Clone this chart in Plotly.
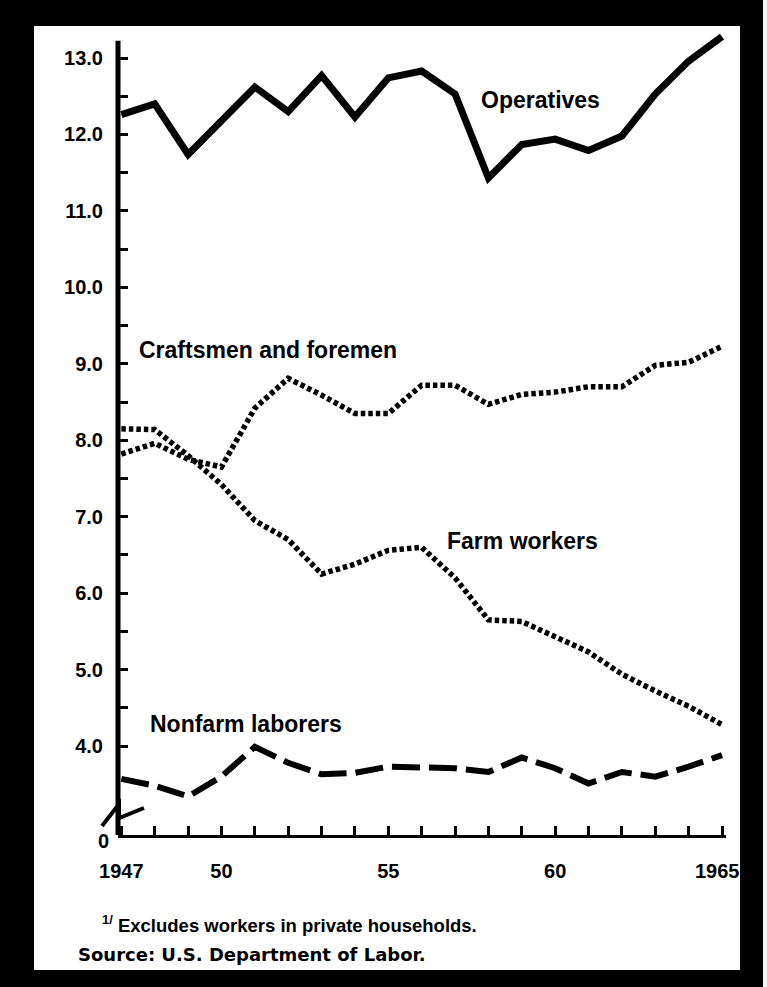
import plotly.graph_objects as go

# -----------------------------------------------------------------------------
# Data (millions of workers), 1947-1965
# -----------------------------------------------------------------------------
years = list(range(1947, 1966))

operatives = [12.26, 12.40, 11.74, 12.18, 12.62, 12.30, 12.77, 12.23, 12.74, 12.83,
              12.53, 11.43, 11.87, 11.94, 11.79, 11.98, 12.53, 12.96, 13.28]
craftsmen = [7.82, 7.96, 7.75, 7.65, 8.42, 8.81, 8.59, 8.35, 8.35, 8.72,
             8.72, 8.47, 8.60, 8.63, 8.70, 8.70, 8.98, 9.02, 9.23]
farm_workers = [8.15, 8.14, 7.80, 7.42, 6.95, 6.70, 6.25, 6.38, 6.56, 6.60,
                6.20, 5.65, 5.63, 5.43, 5.23, 4.94, 4.72, 4.52, 4.28]
nonfarm_laborers = [3.57, 3.48, 3.34, 3.60, 3.99, 3.78, 3.63, 3.65, 3.73, 3.72,
                    3.71, 3.66, 3.85, 3.71, 3.51, 3.66, 3.60, 3.73, 3.88]

y_major = [4, 5, 6, 7, 8, 9, 10, 11, 12, 13]
y_major_text = ["4.0", "5.0", "6.0", "7.0", "8.0", "9.0", "10.0", "11.0", "12.0", "13.0"]
y_minor = [4.5, 5.5, 6.5, 7.5, 8.5, 9.5, 10.5, 11.5, 12.5]
x_text = {1947: "1947", 1950: "50", 1955: "55", 1960: "60"}
last_year_text = "1965"

# broken axis: the zero line sits just below 4.0
axis_floor = 2.836
axis_top = 13.226
y_range = [axis_floor, 13.367]
x_range = [1946.9, 1965.12]

# -----------------------------------------------------------------------------
# pixel helpers (plot area in page pixels)
# -----------------------------------------------------------------------------
W, H = 767, 987
L, R, T, B = 118, 726, 30, 835


def px(x):
    return (x - L) / (R - L)


def py(y):
    return (B - y) / (B - T)


FONT = "Liberation Sans, Arial, sans-serif"
DOT = "4.5px,3px"

fig = go.Figure()

fig.add_trace(go.Scatter(x=years, y=operatives, mode="lines", name="Operatives",
                         line=dict(color="black", width=7)))
fig.add_trace(go.Scatter(x=years, y=craftsmen, mode="lines", name="Craftsmen and foremen",
                         line=dict(color="black", width=5.5, dash=DOT)))
fig.add_trace(go.Scatter(x=years, y=farm_workers, mode="lines", name="Farm workers",
                         line=dict(color="black", width=5.5, dash=DOT)))
fig.add_trace(go.Scatter(x=years, y=nonfarm_laborers, mode="lines", name="Nonfarm laborers",
                         line=dict(color="black", width=6, dash="28px,9px")))

# series labels
labels = [
    ("Operatives", 540, 100),
    ("Craftsmen and foremen", 268, 350),
    ("Farm workers", 522, 541),
    ("Nonfarm laborers", 246, 724),
]
annotations = []
for text, x, y in labels:
    annotations.append(dict(text=text, x=px(x), y=py(y), xref="paper", yref="paper",
                            showarrow=False, xanchor="center", yanchor="middle",
                            font=dict(family=FONT, size=23, color="black", weight="bold")))

tick_font = dict(family=FONT, size=20, color="black", weight="bold")
annotations += [
    dict(text="0", x=px(103), y=py(841), xref="paper", yref="paper", showarrow=False,
         xanchor="center", yanchor="middle", font=tick_font),
    # last year label sits a little left of its tick, inside the frame
    dict(text=last_year_text, x=px(717), y=py(871), xref="paper", yref="paper",
         showarrow=False, xanchor="center", yanchor="middle", font=tick_font),
    dict(text="<sup>1/</sup> Excludes workers in private households.", x=px(100), y=py(924),
         xref="paper", yref="paper", showarrow=False, xanchor="left", yanchor="middle",
         font=dict(family=FONT, size=18.5, color="black", weight="bold")),
    dict(text="Source: U.S. Department of Labor.", x=px(76), y=py(954),
         xref="paper", yref="paper", showarrow=False, xanchor="left", yanchor="middle",
         font=dict(family="DejaVu Sans, sans-serif", size=18, color="black", weight="bold")),
]

shapes = [
    # white page inside the black scan border
    dict(type="rect", xref="paper", yref="paper", x0=px(34), x1=px(740), y0=py(26), y1=py(970),
         fillcolor="white", line=dict(width=0), layer="below"),
    dict(type="rect", xref="paper", yref="paper", x0=px(763), x1=px(767), y0=py(0), y1=py(987),
         fillcolor="#f2f2f2", line=dict(width=0), layer="below"),
    # vertical axis line
    dict(type="line", xref="paper", yref="y", x0=0, x1=0, y0=axis_floor, y1=axis_top,
         line=dict(color="black", width=5)),
    # axis break zigzag
    dict(type="path", xref="paper", yref="paper",
         path=f"M {px(102)} {py(826)} L {px(119)} {py(804)} L {px(119)} {py(818)} L {px(144)} {py(808)}",
         line=dict(color="black", width=4)),
]

fig.update_layout(
    width=W, height=H,
    margin=dict(l=L, r=W - R, t=T, b=H - B),
    paper_bgcolor="black",
    plot_bgcolor="white",
    showlegend=False,
    annotations=annotations,
    shapes=shapes,
)

fig.update_xaxes(
    range=x_range, showgrid=False, zeroline=False,
    showline=True, linecolor="black", linewidth=3,
    tickmode="array", tickvals=years, ticktext=[x_text.get(yr, "") for yr in years],
    ticks="inside", ticklen=9, tickwidth=3, tickcolor="black",
    ticklabelstandoff=16,
    tickfont=tick_font,
)
fig.update_yaxes(
    range=y_range, showgrid=False, zeroline=False, showline=False,
    tickmode="array", tickvals=y_major, ticktext=y_major_text,
    ticks="inside", ticklen=10, tickwidth=3, tickcolor="black",
    ticklabelstandoff=14,
    tickfont=tick_font,
    minor=dict(tickmode="array", tickvals=y_minor, ticks="inside", ticklen=10,
               tickwidth=3, tickcolor="black", showgrid=False),
)

# drop the default 8px body margin so the figure sits at the page origin
fig.write_html("out.html", config={"displayModeBar": False},
               post_script="document.body.style.margin='0';document.body.style.overflow='hidden';")
